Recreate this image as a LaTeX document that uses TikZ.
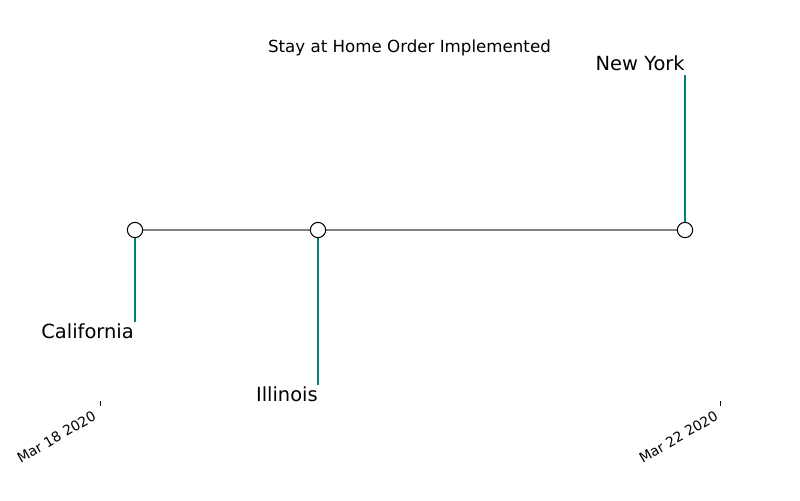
\documentclass[tikz,border=0pt]{standalone}
\usepackage{fontspec}
\setmainfont{DejaVu Sans}
\definecolor{stemteal}{HTML}{008080}
\definecolor{axisgray}{HTML}{808080}
\begin{document}
\begin{tikzpicture}[x=0.72pt,y=-0.72pt,
  eventdot/.style={circle,draw=black,fill=white,line width=0.75pt,minimum size=11pt,inner sep=0pt},
  stemline/.style={draw=stemteal,line width=1.5pt},
  timeline/.style={draw=axisgray,line width=1.5pt},
  statelabel/.style={inner sep=0pt,font=\fontsize{14}{16}\selectfont},
  ticklabel/.style={inner sep=0pt,font=\fontsize{10}{12}\selectfont,rotate=30,anchor=north east},
  tickmark/.style={draw=black,line width=0.6pt}]
\useasboundingbox (0,0) rectangle (800,500);
\node[inner sep=0pt,anchor=base,font=\fontsize{12}{14}\selectfont] (title) at (409.5,52) {Stay at Home Order Implemented};
% stems end points
\coordinate (caend) at (135,322);
\coordinate (ilend) at (318,385);
\coordinate (nyend) at (685,75);
\coordinate (ca) at (135,230);
\coordinate (il) at (318,230);
\coordinate (ny) at (685,230);
\draw[timeline] (ca) -- (il) -- (ny);
\draw[stemline] (ca) -- (caend);
\draw[stemline] (il) -- (ilend);
\draw[stemline] (ny) -- (nyend);
\node[eventdot] (cadot) at (ca) {};
\node[eventdot] (ildot) at (il) {};
\node[eventdot] (nydot) at (ny) {};
\node[statelabel,anchor=base east] (calabel) at (134,338) {California};
\node[statelabel,anchor=base east] (illabel) at (318,401) {Illinois};
\node[statelabel,anchor=base east] (nylabel) at (685,70.5) {New York};
% ticks
\coordinate (t1a) at (100,401);
\coordinate (t1b) at (100,406);
\coordinate (t2a) at (720,401);
\coordinate (t2b) at (720,406);
\draw[tickmark] (t1a) -- (t1b);
\draw[tickmark] (t2a) -- (t2b);
\node[ticklabel] (t1label) at (92,410) {Mar 18 2020};
\node[ticklabel] (t2label) at (714,410) {Mar 22 2020};
\end{tikzpicture}
\end{document}
